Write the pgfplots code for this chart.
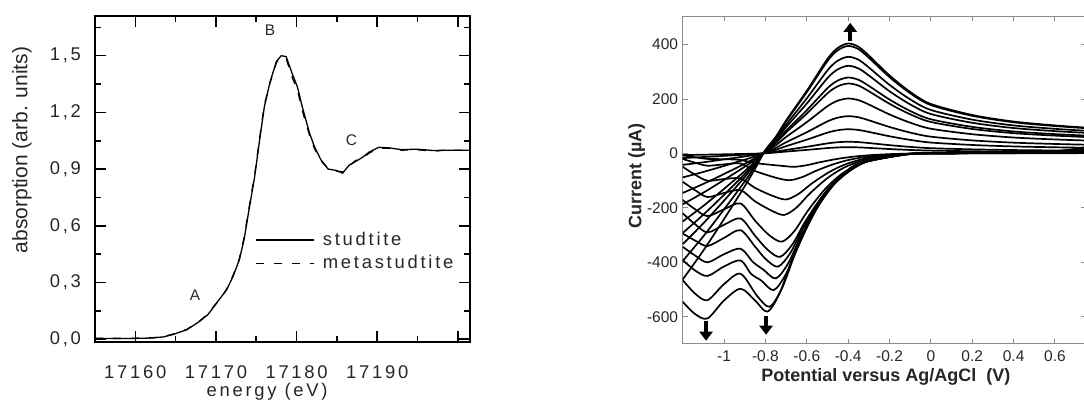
\documentclass[border=0pt]{standalone}
\usepackage{fontspec}
\setmainfont{Liberation Sans}
\newfontfamily\spaced[LetterSpace=15]{Liberation Sans}
\usepackage{pgfplots}
\pgfplotsset{compat=1.18}
\usetikzlibrary{arrows.meta}
\pgfplotsset{cv/.style={black, line width=0.85pt, smooth, mark=none}}
\begin{document}
\begin{tikzpicture}
\useasboundingbox (0,0) rectangle (542pt,200pt);
% ---------------- left panel ----------------
\begin{axis}[
  at={(47.5pt,29pt)}, anchor=south west,
  scale only axis, width=187.5pt, height=163pt,
  xmin=17155, xmax=17201.5, ymin=-0.015, ymax=1.71,
  clip mode=individual,
  axis line style={line width=1pt},
  every tick/.style={black, line width=0.8pt},
  major tick length=5.5pt, minor tick length=3pt,
  tick align=inside,
  xtick={17160,17170,17180,17190},
  xticklabels={17160,17170,17180,17190},
  extra x ticks={17200},
  extra x tick style={xticklabel style={opacity=0}},
  minor xtick={17165,17175,17185,17195},
  ytick={0,0.3,0.6,0.9,1.2,1.5},
  yticklabels={{0,0},{0,3},{0,6},{0,9},{1,2},{1,5}},
  minor ytick={0.15,0.45,0.75,1.05,1.35,1.65},
  ticklabel style={font=\spaced\fontsize{9.2}{10}\selectfont, text=black!85},
  xticklabel style={yshift=-8.5pt},
  yticklabel style={xshift=-3.5pt},
  xlabel={energy (eV)},
  xlabel style={at={(rel axis cs:0.459,-0.152)}, anchor=center, font=\spaced\fontsize{9.2}{10}\selectfont, text=black!85},
  ylabel={absorption (arb. units)},
  ylabel style={at={(rel axis cs:-0.195,0.589)}, anchor=center, rotate=0, font=\fontsize{10.5}{12}\selectfont, text=black!85},
  legend style={draw=none, fill=none, at={(rel axis cs:0.427,0.345)}, anchor=north west,
    font=\spaced\fontsize{9.2}{10}\selectfont, row sep=1.5pt, inner sep=0pt, nodes={inner sep=1pt, text=black!85}},
  legend cell align=left,
  legend image code/.code={\draw[#1] (0pt,0pt) -- (29pt,0pt);},
]
\addplot[black, line width=0.65pt] coordinates {
(17155,0.003) (17158,0.003) (17160,0.004) (17162,0.006) (17163.5,0.012) (17164.7,0.025)
(17166.4,0.05) (17168.0,0.095) (17169.0,0.13) (17169.7,0.17) (17170.5,0.215) (17171.3,0.26)
(17172.1,0.33) (17172.9,0.42) (17173.5,0.53) (17174.0,0.66) (17174.8,0.86) (17175.4,1.05)
(17176.0,1.23) (17176.7,1.36) (17177.5,1.47) (17178.1,1.50) (17178.7,1.495) (17179.5,1.40)
(17180.1,1.335) (17180.7,1.23) (17181.6,1.09) (17182.2,1.02) (17183.0,0.95) (17183.9,0.90)
(17184.9,0.893) (17185.7,0.878) (17186.5,0.92) (17187.3,0.94) (17188.1,0.96) (17189.0,0.99)
(17190.2,1.015) (17191.5,1.012) (17193,1.003) (17195,1.005) (17197,0.998) (17198.5,1.0) (17201.5,1.0)
};
\addlegendentry{\hspace{3pt}studtite}
\addplot[black, line width=0.65pt, dash pattern=on 4pt off 5pt] coordinates {
(17155,0.004) (17158,0.004) (17160,0.005) (17162,0.007) (17163.5,0.013) (17164.7,0.027)
(17166.4,0.052) (17168.0,0.097) (17169.0,0.133) (17169.7,0.172) (17170.5,0.212) (17171.3,0.262)
(17172.1,0.335) (17172.9,0.425) (17173.5,0.54) (17174.0,0.67) (17174.8,0.87) (17175.4,1.06)
(17176.0,1.24) (17176.7,1.355) (17177.5,1.465) (17178.1,1.49) (17178.7,1.485) (17179.5,1.38)
(17180.1,1.32) (17180.7,1.21) (17181.6,1.08) (17182.2,1.01) (17183.0,0.945) (17183.9,0.905)
(17184.9,0.89) (17185.7,0.885) (17186.5,0.915) (17187.3,0.945) (17188.1,0.955) (17189.0,0.985)
(17190.2,1.01) (17191.5,1.01) (17193,1.0) (17195,1.002) (17197,0.995) (17198.5,1.0) (17201.5,1.0)
};
\addlegendentry{\hspace{3pt}metastudtite}
\node[font=\fontsize{7.7}{9}\selectfont, text=black!85] at (axis cs:17167.4,0.23) {A};
\node[font=\fontsize{7.7}{9}\selectfont, text=black!85] at (axis cs:17176.7,1.637) {B};
\node[font=\fontsize{7.7}{9}\selectfont, text=black!85] at (axis cs:17186.8,1.053) {C};
\end{axis}
% ---------------- right panel ----------------
\begin{axis}[
  at={(341.35pt,28pt)}, anchor=south west,
  scale only axis, width=201.65pt, height=164pt,
  xmin=-1.2, xmax=0.75, ymin=-700, ymax=505,
  axis line style={black!45, line width=0.5pt},
  every tick/.style={black!45, line width=0.5pt},
  major tick length=2.5pt, tick align=inside,
  xtick={-1,-0.8,-0.6,-0.4,-0.2,0,0.2,0.4,0.6},
  xticklabels={-1,-0.8,-0.6,-0.4,-0.2,0,0.2,0.4,0.6},
  ytick={-600,-400,-200,0,200,400},
  yticklabels={-600,-400,-200,0,200,400},
  ticklabel style={font=\fontsize{7.75}{9}\selectfont, text=black!85},
  yticklabel style={xshift=1.2pt},
  xlabel={Potential versus Ag/AgCl\ \ (V)},
  xlabel style={at={(rel axis cs:0.504,-0.1)}, anchor=center, font=\bfseries\fontsize{9}{10}\selectfont, text=black!85},
  ylabel={Current (µA)},
  ylabel style={at={(rel axis cs:-0.114,0.512)}, anchor=center, rotate=0, font=\bfseries\fontsize{9}{10}\selectfont, text=black!85},
]
% anodic branches
\addplot[cv] coordinates {(-1.2,-6) (-1.1,-4.6) (-1.0,-3.1) (-0.9,-1.6) (-0.85,-0.7) (-0.8,0.7) (-0.75,3.5) (-0.7,6.9) (-0.6,13.1) (-0.5,19.8) (-0.45,22.1) (-0.4,23) (-0.35,22.3) (-0.3,20.5) (-0.2,16.3) (-0.1,12.9) (0,10.4) (0.2,8.1) (0.4,6.7) (0.6,5.9) (0.75,5.4)};
\addplot[cv] coordinates {(-1.2,-17) (-1.1,-13.1) (-1.0,-8.8) (-0.9,-4.4) (-0.85,-2) (-0.8,1.3) (-0.75,6.5) (-0.7,12.9) (-0.6,24.5) (-0.5,37) (-0.45,41.3) (-0.4,43) (-0.35,41.7) (-0.3,38.3) (-0.2,30.5) (-0.1,24.1) (0,19.4) (0.2,15.1) (0.4,12.5) (0.6,11) (0.75,10.1)};
\addplot[cv] coordinates {(-1.2,-42) (-1.1,-32.3) (-1.0,-21.8) (-0.9,-10.9) (-0.85,-5) (-0.8,2.7) (-0.75,13.4) (-0.7,26.7) (-0.6,50.7) (-0.5,76.5) (-0.45,85.4) (-0.4,89) (-0.35,86.3) (-0.3,79.2) (-0.2,63.2) (-0.1,49.8) (0,40.1) (0.2,31.2) (0.4,25.8) (0.6,22.7) (0.75,20.9)};
\addplot[cv] coordinates {(-1.2,-88) (-1.1,-67.8) (-1.0,-45.8) (-0.9,-22.9) (-0.85,-10.6) (-0.8,4.1) (-0.75,20.6) (-0.7,41.1) (-0.6,78.1) (-0.5,117.8) (-0.45,131.5) (-0.4,137) (-0.35,132.9) (-0.3,121.9) (-0.2,97.3) (-0.1,76.7) (0,61.7) (0.2,48) (0.4,39.7) (0.6,34.9) (0.75,32.2)};
\addplot[cv] coordinates {(-1.2,-145) (-1.1,-111.7) (-1.0,-75.4) (-0.9,-37.7) (-0.85,-17.4) (-0.8,6.1) (-0.75,30.3) (-0.7,60.6) (-0.6,115.1) (-0.5,173.7) (-0.45,193.9) (-0.4,202) (-0.35,195.9) (-0.3,179.8) (-0.2,143.4) (-0.1,113.1) (0,90.9) (0.2,70.7) (0.4,58.6) (0.6,51.5) (0.75,47.5)};
\addplot[cv] coordinates {(-1.2,-187) (-1.1,-144) (-1.0,-97.2) (-0.9,-48.6) (-0.85,-22.4) (-0.8,7.7) (-0.75,38.6) (-0.7,77.1) (-0.6,146.5) (-0.5,221) (-0.45,246.7) (-0.4,257) (-0.35,249.3) (-0.3,228.7) (-0.2,182.5) (-0.1,143.9) (0,115.7) (0.2,90) (0.4,74.5) (0.6,65.5) (0.75,60.4)};
\addplot[cv] coordinates {(-1.2,-250) (-1.1,-192.5) (-1.0,-130) (-0.9,-65) (-0.85,-30) (-0.8,8.4) (-0.75,41.9) (-0.7,83.7) (-0.6,159) (-0.5,239.9) (-0.45,267.8) (-0.4,279) (-0.35,270.6) (-0.3,248.3) (-0.2,198.1) (-0.1,156.2) (0,125.6) (0.2,97.7) (0.4,80.9) (0.6,71.1) (0.75,65.6)};
\addplot[cv] coordinates {(-1.2,-292) (-1.1,-224.8) (-1.0,-151.8) (-0.9,-75.9) (-0.85,-35) (-0.8,9.7) (-0.75,48.3) (-0.7,96.6) (-0.6,183.5) (-0.5,276.9) (-0.45,309.1) (-0.4,322) (-0.35,312.3) (-0.3,286.6) (-0.2,228.6) (-0.1,180.3) (0,144.9) (0.2,112.7) (0.4,93.4) (0.6,82.1) (0.75,75.7)};
\addplot[cv] coordinates {(-1.2,-333) (-1.1,-256.4) (-1.0,-173.2) (-0.9,-86.6) (-0.85,-40) (-0.8,10.7) (-0.75,53.3) (-0.7,106.5) (-0.6,202.4) (-0.5,305.3) (-0.45,340.8) (-0.4,355) (-0.35,344.4) (-0.3,316) (-0.2,252) (-0.1,198.8) (0,159.8) (0.2,124.3) (0.4,103) (0.6,90.5) (0.75,83.4)};
\addplot[cv] coordinates {(-1.2,-395) (-1.1,-304.2) (-1.0,-205.4) (-0.9,-102.7) (-0.85,-47.4) (-0.8,11.9) (-0.75,59.3) (-0.7,118.5) (-0.6,225.2) (-0.5,339.7) (-0.45,379.2) (-0.4,395) (-0.35,383.2) (-0.3,351.6) (-0.2,280.5) (-0.1,221.2) (0,177.8) (0.2,138.3) (0.4,114.6) (0.6,100.7) (0.75,92.8)};
\addplot[cv] coordinates {(-1.2,-463) (-1.1,-356.5) (-1.0,-240.8) (-0.9,-120.4) (-0.85,-55.6) (-0.8,12.1) (-0.75,60.6) (-0.7,121.2) (-0.6,230.3) (-0.5,347.4) (-0.45,387.8) (-0.4,404) (-0.35,391.9) (-0.3,359.6) (-0.2,286.8) (-0.1,226.2) (0,181.8) (0.2,141.4) (0.4,117.2) (0.6,103) (0.75,94.9)};
% cathodic branches
\addplot[cv] coordinates {(0.75,1.4) (0.65,0.8) (0.5,0.6) (0.3,0.5) (0.1,0) (-0.1,-0.5) (-0.21,-2.9) (-0.29,-6.1) (-0.37,-11.3) (-0.45,-19.6) (-0.535,-31.9) (-0.6,-43.1) (-0.66,-49) (-0.72,-45.6) (-0.85,-35.3) (-0.92,-24) (-1.0,-21) (-1.08,-20) (-1.14,-14) (-1.2,-7)};
\addplot[cv] coordinates {(0.75,2.5) (0.65,1.5) (0.5,1.2) (0.3,1) (0.1,0) (-0.1,-1) (-0.23,-5.9) (-0.31,-12.3) (-0.39,-22.5) (-0.47,-39.2) (-0.555,-63.7) (-0.62,-86.2) (-0.68,-98) (-0.74,-91.1) (-0.85,-64.5) (-0.92,-37) (-1.0,-40) (-1.08,-45) (-1.14,-34) (-1.2,-20)};
\addplot[cv] coordinates {(0.75,5.2) (0.65,3.2) (0.5,2.5) (0.3,2) (0.1,1) (-0.1,-1) (-0.25,-10.1) (-0.33,-21.1) (-0.41,-38.9) (-0.49,-67.6) (-0.575,-109.9) (-0.64,-148.7) (-0.7,-169) (-0.76,-157.2) (-0.85,-126.7) (-0.92,-92) (-1.0,-94) (-1.08,-100) (-1.14,-78) (-1.2,-49)};
\addplot[cv] coordinates {(0.75,8) (0.65,4.5) (0.5,3) (0.3,2) (0.1,1) (-0.1,-1) (-0.26,-13.6) (-0.34,-28.3) (-0.42,-52) (-0.5,-90.4) (-0.585,-146.9) (-0.65,-198.9) (-0.71,-226) (-0.77,-210.2) (-0.85,-176) (-0.92,-135) (-1.0,-145) (-1.08,-160) (-1.14,-135) (-1.2,-104)};
\addplot[cv] coordinates {(0.75,11.9) (0.65,6) (0.5,3.5) (0.3,2) (0.1,1) (-0.1,-1) (-0.27,-19.4) (-0.35,-40.5) (-0.43,-74.5) (-0.51,-129.6) (-0.595,-210.6) (-0.66,-285.1) (-0.72,-324) (-0.78,-301.3) (-0.85,-247) (-0.92,-184) (-1.0,-205) (-1.08,-230) (-1.14,-205) (-1.2,-171)};
\addplot[cv] coordinates {(0.75,15.1) (0.65,7.5) (0.5,4) (0.3,2) (0.1,1) (-0.1,-1) (-0.28,-22.8) (-0.36,-47.5) (-0.44,-87.4) (-0.52,-152) (-0.605,-247) (-0.67,-334.4) (-0.73,-380) (-0.79,-353.4) (-0.85,-302.5) (-0.92,-239) (-1.0,-262) (-1.08,-290) (-1.14,-260) (-1.2,-220)};
\addplot[cv] coordinates {(0.75,16.4) (0.65,8) (0.5,4) (0.3,2) (0.1,1) (-0.1,-1) (-0.29,-25) (-0.37,-52) (-0.45,-95.7) (-0.53,-166.4) (-0.615,-270.4) (-0.68,-366.1) (-0.74,-416) (-0.8,-386.9) (-0.85,-342.3) (-0.92,-282) (-1.0,-310) (-1.08,-340) (-1.14,-320) (-1.2,-294)};
\addplot[cv] coordinates {(0.75,18.9) (0.65,9) (0.5,4) (0.3,2) (0.1,1) (-0.1,-2) (-0.3,-27.5) (-0.38,-57.4) (-0.46,-105.6) (-0.54,-183.6) (-0.625,-298.4) (-0.69,-403.9) (-0.75,-459) (-0.81,-426.9) (-0.86,-399) (-0.92,-350) (-1.0,-370) (-1.08,-400) (-1.14,-375) (-1.2,-343)};
\addplot[cv] coordinates {(0.75,20.8) (0.65,10) (0.5,5) (0.3,2) (0.1,1) (-0.1,-2) (-0.31,-30.1) (-0.39,-62.8) (-0.47,-115.5) (-0.55,-200.8) (-0.635,-326.3) (-0.7,-441.8) (-0.76,-502) (-0.82,-466.9) (-0.87,-442) (-0.92,-393) (-1.0,-415) (-1.08,-450) (-1.14,-430) (-1.2,-392)};
\addplot[cv] coordinates {(0.75,23.2) (0.65,11) (0.5,5) (0.3,3) (0.1,1) (-0.1,-2) (-0.33,-33.8) (-0.41,-70.4) (-0.49,-129.5) (-0.57,-225.2) (-0.655,-366) (-0.72,-495.4) (-0.78,-563) (-0.84,-523.6) (-0.92,-442) (-1.0,-480) (-1.08,-539) (-1.14,-515) (-1.2,-465)};
\addplot[cv] coordinates {(0.75,23.7) (0.65,11.5) (0.5,5) (0.3,3) (0.1,1) (-0.1,-2) (-0.34,-34.9) (-0.42,-72.6) (-0.5,-133.6) (-0.58,-232.4) (-0.665,-377.7) (-0.73,-511.3) (-0.79,-581) (-0.85,-540.3) (-0.92,-497) (-1.0,-540) (-1.08,-606) (-1.14,-590) (-1.2,-545)};
% arrows
\draw[black, line width=2pt, -{Triangle[length=4.5pt,width=6.5pt]}] (axis cs:-0.39,412) -- (axis cs:-0.39,480);
\draw[black, line width=2pt, -{Triangle[length=4.5pt,width=6.5pt]}] (axis cs:-1.087,-615) -- (axis cs:-1.087,-688);
\draw[black, line width=2pt, -{Triangle[length=4.5pt,width=6.5pt]}] (axis cs:-0.797,-598) -- (axis cs:-0.797,-666);
\end{axis}
\end{tikzpicture}
\end{document}
